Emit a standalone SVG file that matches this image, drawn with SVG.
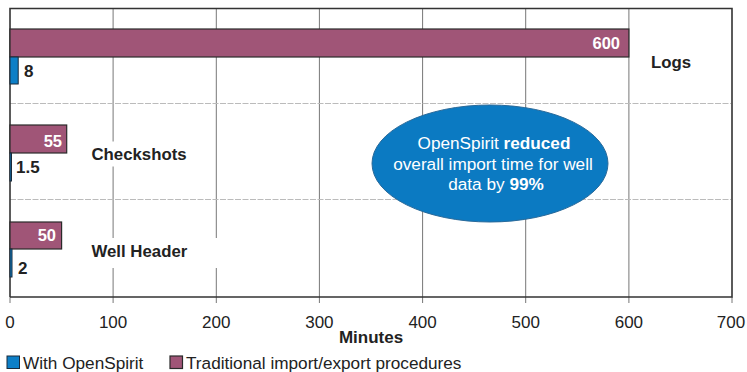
<svg xmlns="http://www.w3.org/2000/svg" width="747" height="372" viewBox="0 0 747 372">
<style>
text{font-family:"Liberation Sans",Arial,sans-serif;fill:#222}
.grid{stroke:#777;stroke-width:1}
.sep{stroke:#bbb;stroke-width:1.2;stroke-dasharray:6 1.5}
.trad{fill:#a05577;stroke:#2a2a2a;stroke-width:1.2}
.os{fill:#0d7fc7;stroke:#1a2a3a;stroke-width:1}
.val{font-size:16.5px;font-weight:bold;fill:#fff}
.val2{font-size:17px;font-weight:bold}
.cat{font-size:16.8px;font-weight:bold}
.tick{font-size:17px;text-anchor:middle}
.leg{font-size:17.2px}
.ell{font-size:17.2px;fill:#fff;text-anchor:middle}
</style>
<rect width="747" height="372" fill="#fff"/>
<g id="grid">
<line class="grid" x1="113.1" y1="8.5" x2="113.1" y2="303"/>
<line class="grid" x1="216.3" y1="8.5" x2="216.3" y2="303"/>
<line class="grid" x1="319.4" y1="8.5" x2="319.4" y2="303"/>
<line class="grid" x1="422.6" y1="8.5" x2="422.6" y2="303"/>
<line class="grid" x1="525.7" y1="8.5" x2="525.7" y2="303"/>
<line class="grid" x1="628.9" y1="8.5" x2="628.9" y2="303"/>
<line class="grid" x1="10" y1="297" x2="10" y2="303"/>
<line class="grid" x1="732" y1="297" x2="732" y2="303"/>
<line class="sep" x1="10" y1="103.5" x2="731" y2="103.5"/>
<line class="sep" x1="10" y1="199.5" x2="731" y2="199.5"/>
<polyline points="10,297 10,8.5 732,8.5 732,297 10,297" fill="none" stroke="#333" stroke-width="1.6"/>
</g>
<g id="ellipse">
<ellipse cx="490" cy="163.5" rx="118" ry="58.5" fill="#0b7ac2" stroke="#2a6a9a" stroke-width="1"/>
<text class="ell" x="494" y="149">OpenSpirit <tspan font-weight="bold" fill="#fff">reduced</tspan></text>
<text class="ell" x="493" y="169.5">overall import time for well</text>
<text class="ell" x="496" y="190">data by <tspan font-weight="bold" fill="#fff">99%</tspan></text>
</g>
<g id="logs">
<rect class="trad" x="10" y="29" width="618.9" height="28"/>
<rect class="os" x="10" y="57" width="8.2" height="27"/>
<text class="val" x="620" y="49" text-anchor="end">600</text>
<text class="val2" x="24" y="77">8</text>
<text class="cat" x="651" y="68">Logs</text>
</g>
<g id="checkshots">
<rect class="trad" x="10" y="125" width="56.7" height="28"/>
<rect class="os" x="10" y="153" width="1.5" height="28"/>
<text class="val" x="62" y="147" text-anchor="end">55</text>
<text class="val2" x="16" y="173">1.5</text>
<rect x="88" y="141.5" width="110" height="25" fill="#fff"/>
<text class="cat" x="91.5" y="160">Checkshots</text>
</g>
<g id="wellheader">
<rect class="trad" x="10" y="222" width="51.6" height="27"/>
<rect class="os" x="10" y="249" width="2" height="28"/>
<text class="val" x="56" y="241" text-anchor="end">50</text>
<text class="val2" x="18" y="274">2</text>
<rect x="88" y="238" width="129" height="30" fill="#fff"/>
<text class="cat" x="91.5" y="257">Well Header</text>
</g>
<g id="axis">
<text class="tick" x="10" y="328">0</text>
<text class="tick" x="113.1" y="328">100</text>
<text class="tick" x="216.3" y="328">200</text>
<text class="tick" x="319.4" y="328">300</text>
<text class="tick" x="422.6" y="328">400</text>
<text class="tick" x="525.7" y="328">500</text>
<text class="tick" x="628.9" y="328">600</text>
<text class="tick" x="731" y="328">700</text>
<text class="tick" x="371" y="342.5" font-weight="bold">Minutes</text>
</g>
<g id="legend">
<rect class="os" x="7" y="356" width="12.5" height="12.5"/>
<text class="leg" x="23" y="368.5">With OpenSpirit</text>
<rect class="trad" x="170" y="356" width="12.5" height="12.5"/>
<text class="leg" x="186" y="368.5">Traditional import/export procedures</text>
</g>
</svg>
